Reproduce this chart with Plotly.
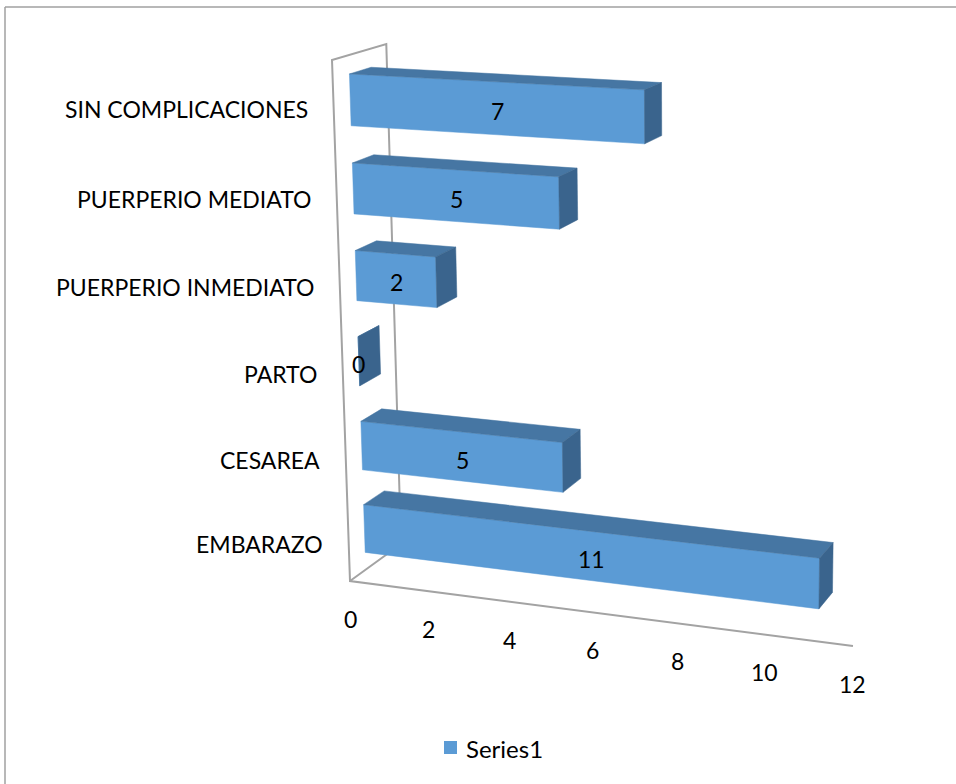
import plotly.graph_objects as go

# ---- data -------------------------------------------------------------
categories = ["EMBARAZO", "CESAREA", "PARTO",
              "PUERPERIO INMEDIATO", "PUERPERIO MEDIATO", "SIN COMPLICACIONES"]
values = [11, 5, 0, 2, 5, 7]
value_ticks = [0, 2, 4, 6, 8, 10, 12]
series_name = "Series1"

# ---- 3-D view: perspective projection of the chart box ----------------
# world axes: X = value, Y = category slot (0..6), Z = depth (0 front, 1 back)
W, H = 956, 784
ORIGIN = (350.0, 581.0)
VP_X, K_X = (-6400.0, -290.0), -0.005779
VP_Y, K_Y = (701.0, 10741.0), -0.04878 / 6
VP_Z, K_Z = (1567.0, -302.0), 0.04374
X_MAX, Y_MAX = 12, 6
BAR_LO, BAR_HI = 0.21, 0.79      # bar thickness inside a category slot
Z_FRONT, Z_BACK = 0.3, 0.7       # bar depth inside the box


def project(X, Y, Z):
    w = 1 + K_X * X + K_Y * Y + K_Z * Z
    px = ORIGIN[0] + K_X * X * VP_X[0] + K_Y * Y * VP_Y[0] + K_Z * Z * VP_Z[0]
    py = ORIGIN[1] + K_X * X * VP_X[1] + K_Y * Y * VP_Y[1] + K_Z * Z * VP_Z[1]
    return px / w, py / w


def poly(points):
    xs, ys = zip(*[project(*p) for p in points])
    return list(xs) + [xs[0]], list(ys) + [ys[0]]


FRONT = "#5B9BD5"
TOP = "#4676A3"
SIDE = "#3A648D"
FRAME = "#A3A3A3"
FONT = "Lato"
FSIZE = 23

fig = go.Figure()

# walls: left wall outline and front floor edge
frame_pts = [(X_MAX, 0, 0), (0, 0, 0), (0, Y_MAX, 0), (0, Y_MAX, 1),
             (0, 0, 1), (0, 0, 0)]
fx, fy = zip(*[project(*p) for p in frame_pts])
fig.add_trace(go.Scatter(x=fx, y=fy, mode="lines",
                         line=dict(color=FRAME, width=2),
                         hoverinfo="skip", showlegend=False))

# bars: front, top and end faces
for i, v in enumerate(values):
    lo, hi = i + BAR_LO, i + BAR_HI
    faces = [
        ([(0, lo, Z_FRONT), (v, lo, Z_FRONT), (v, hi, Z_FRONT), (0, hi, Z_FRONT)], FRONT),
        ([(0, hi, Z_FRONT), (v, hi, Z_FRONT), (v, hi, Z_BACK), (0, hi, Z_BACK)], TOP),
        ([(v, lo, Z_FRONT), (v, lo, Z_BACK), (v, hi, Z_BACK), (v, hi, Z_FRONT)], SIDE),
    ]
    for pts, col in faces:
        px, py = poly(pts)
        fig.add_trace(go.Scatter(x=px, y=py, mode="lines", fill="toself",
                                 fillcolor=col, line=dict(color=col, width=0.5),
                                 hoverinfo="skip", showlegend=False))
    # value label centred on the front face
    corners = [project(0, lo, Z_FRONT), project(v, lo, Z_FRONT),
               project(v, hi, Z_FRONT), project(0, hi, Z_FRONT)]
    cx = sum(c[0] for c in corners) / 4
    cy = sum(c[1] for c in corners) / 4
    fig.add_annotation(x=cx, y=cy + 3, text=str(v), showarrow=False,
                       font=dict(family=FONT, size=FSIZE, color="black"),
                       xanchor="center", yanchor="middle")

# category labels along the wall edge
for i, name in enumerate(categories):
    x0, y0 = project(0, i + 0.5, 0)
    fig.add_annotation(x=x0 - 24, y=y0 + 4, text=name, showarrow=False,
                       font=dict(family=FONT, size=FSIZE, color="black"),
                       xanchor="right", yanchor="middle")

# value axis labels below the floor edge
for t in value_ticks:
    x0, y0 = project(t, 0, 0)
    fig.add_annotation(x=x0, y=y0 + 38, text=str(t), showarrow=False,
                       font=dict(family=FONT, size=FSIZE, color="black"),
                       xanchor="center", yanchor="middle")

# legend
fig.add_shape(type="rect", x0=444, y0=741, x1=457, y1=754,
              fillcolor=FRONT, line=dict(width=0))
fig.add_annotation(x=464, y=748, text=series_name, showarrow=False,
                   font=dict(family=FONT, size=FSIZE + 1, color="black"),
                   xanchor="left", yanchor="middle")

# chart area border
fig.add_shape(type="line", x0=5, y0=7, x1=W, y1=7,
              line=dict(color="#A0A0A0", width=1.5))
fig.add_shape(type="line", x0=5, y0=7, x1=5, y1=H,
              line=dict(color="#A0A0A0", width=1.5))

fig.update_layout(
    width=W, height=H,
    margin=dict(l=0, r=0, t=0, b=0),
    paper_bgcolor="white", plot_bgcolor="white",
    xaxis=dict(range=[0, W], visible=False, fixedrange=True),
    yaxis=dict(range=[H, 0], visible=False, fixedrange=True),
    showlegend=False,
)

fig.write_html("out.html")
